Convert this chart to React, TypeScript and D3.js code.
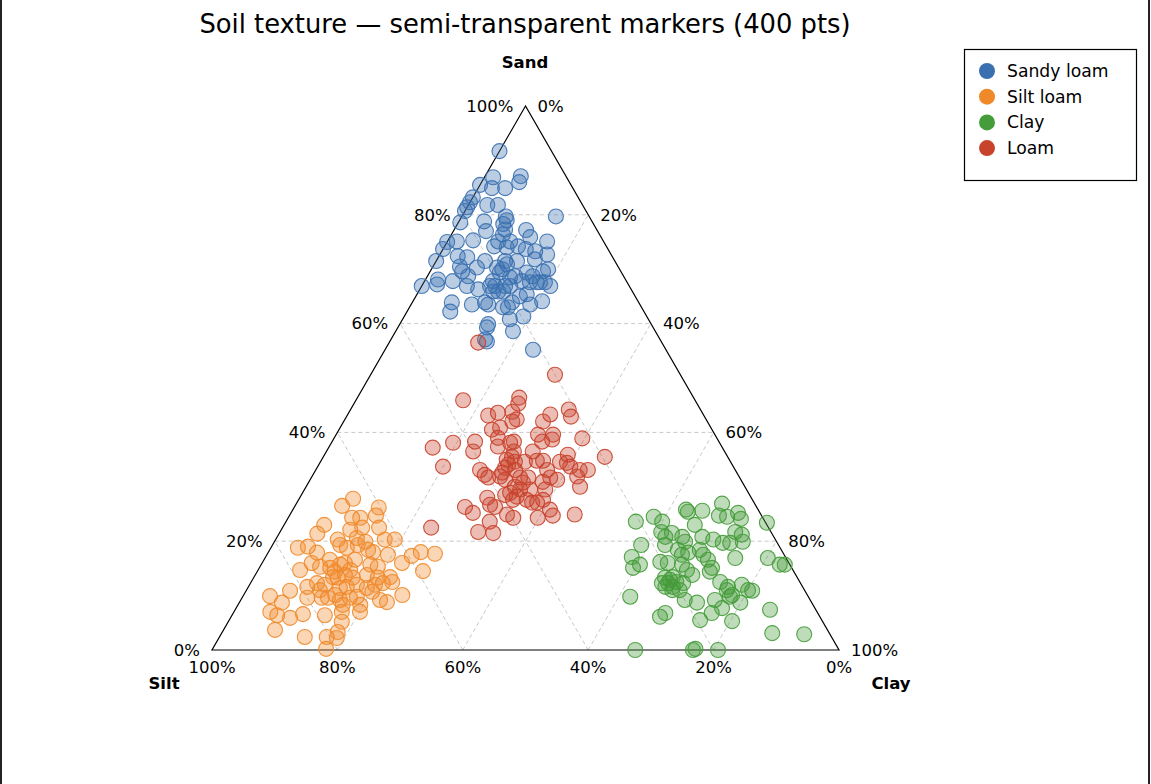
import React from "react";
import * as d3 from "d3";

// [sand %, clay %]; silt = 100 - sand - clay
const sandyLoam: [number, number][] = [
  [91.7, 0], [86.9, 1.4], [87.1, 5.7], [86.0, 6.0], [85.5, 0], [84.9, 2.2], [84.9, 4.3], [83.2, 0], [82.3, 0], [81.4, 0],
  [80.7, 0], [81.8, 3.0], [81.8, 4.7], [79.7, 15.0], [79.7, 7.0], [79.0, 7.5], [78.8, 4.0], [78.6, 0.3], [78.3, 7.3], [77.3, 8.1],
  [77.0, 5.2], [76.4, 8.2], [77.2, 11.5], [75.9, 12.8], [75.3, 4.0], [75.1, 1.5], [75.0, 0], [75.1, 10.0], [75.1, 8.1], [75.1, 15.9],
  [73.7, 0], [74.0, 10.0], [74.2, 7.9], [74.2, 11.7], [73.3, 14.9], [71.5, 0], [72.4, 3.0], [72.2, 4.6], [70.5, 4.3], [70.3, 7.1],
  [68.7, 6.5], [69.6, 5.1], [70.3, 10.3], [70.0, 11.3], [70.9, 11.6], [71.5, 11.0], [69.4, 11.2], [73.7, 13.2], [71.8, 15.6], [72.7, 17.1],
  [71.5, 12.9], [69.4, 15.5], [68.7, 16.8], [69.6, 18.0], [68.7, 14.0], [68.5, 13.3], [67.8, 15.5], [67.6, 16.9], [67.6, 18.0], [67.6, 18.5],
  [67.6, 19.3], [66.9, 20.5], [66.9, 10.9], [66.9, 11.7], [65.9, 11.9], [65.9, 12.7], [65.9, 13.5], [66.9, 13.3], [66.9, 14.1], [67.8, 10.9],
  [66.3, 9.3], [66.9, 7.2], [67.8, 4.5], [68.1, 2.0], [67.2, 2.3], [66.9, 0], [65.0, 16.6], [65.4, 17.5], [64.1, 20.6], [63.5, 19.0],
  [63.9, 15.9], [63.0, 14.9], [63.0, 15.7], [63.9, 11.6], [63.5, 12.3], [63.5, 9.7], [63.9, 6.3], [62.2, 6.9], [61.3, 19.0], [60.8, 17.1],
  [59.9, 14.1], [59.3, 14.2], [58.6, 18.7], [56.7, 15.5], [57.1, 15.0], [55.2, 23.6], [70.0, 18.6], [71.5, 7.8],
];

const siltLoam: [number, number][] = [
  [27.8, 8.6], [26.5, 7.5], [26.2, 13.5], [24.7, 13.8], [24.3, 10.2], [24.3, 11.5], [23.0, 6.4], [22.1, 11.0], [22.5, 12.7], [22.5, 15.4],
  [21.4, 6.1], [20.3, 9.9], [19.3, 10.8], [20.6, 12.8], [19.9, 14.5], [20.3, 17.4], [20.3, 19.0], [18.8, 4.3], [19.0, 5.8], [17.9, 7.8],
  [18.8, 12.1], [19.3, 13.6], [18.4, 15.7], [18.0, 16.7], [17.5, 19.3], [17.3, 23.2], [18.0, 24.3], [17.7, 26.7], [16.0, 22.3], [14.5, 26.4],
  [14.7, 6.7], [16.0, 7.9], [15.3, 9.6], [15.1, 11.3], [14.4, 12.4], [15.7, 12.6], [16.0, 13.2], [13.4, 12.6], [13.3, 13.4], [14.7, 14.7],
  [13.3, 15.8], [15.7, 17.4], [15.3, 18.8], [13.8, 17.8], [13.3, 19.8], [13.4, 21.7], [12.5, 22.5], [12.3, 21.1], [12.0, 20.0], [11.4, 19.0],
  [12.0, 17.1], [11.6, 15.7], [11.4, 14.7], [12.0, 12.0], [12.3, 10.6], [11.6, 9.4], [10.9, 7.0], [9.9, 4.3], [9.6, 10.4], [9.6, 12.7],
  [9.6, 13.7], [10.1, 14.6], [9.2, 15.8], [9.6, 17.2], [9.8, 18.2], [10.7, 20.2], [10.1, 25.3], [8.8, 23.5], [8.7, 6.8], [7.0, 5.8],
  [6.4, 7.2], [5.9, 9.5], [6.6, 11.2], [6.4, 14.8], [7.0, 17.2], [8.3, 16.7], [8.3, 19.5], [7.0, 20.1], [5.2, 18.1], [3.7, 8.2],
  [3.3, 18.4], [2.4, 13.6], [2.4, 17.1], [2.2, 18.8], [0.2, 18.1], [9.2, 22.2], [16.6, 10.5], [13.8, 14.3], [16.6, 14.5], [11.0, 11.7],
];

const clay: [number, number][] = [
  [25.8, 62.7], [25.4, 63.2], [25.6, 65.4], [26.9, 67.9], [24.7, 68.5], [24.5, 69.9], [25.2, 71.3], [24.1, 72.3], [23.4, 76.8], [23.6, 55.8],
  [24.5, 58.2], [23.6, 60.0], [23.0, 65.5], [21.7, 60.8], [20.8, 61.9], [21.5, 62.6], [20.8, 64.6], [19.9, 65.5], [20.8, 67.8], [20.3, 69.8],
  [19.7, 71.6], [19.7, 72.8], [21.7, 72.6], [21.2, 73.9], [19.9, 74.7], [19.3, 58.8], [19.3, 62.6], [18.4, 65.1], [17.5, 66.2], [17.9, 67.0],
  [18.4, 68.6], [17.5, 69.6], [16.6, 70.8], [15.1, 72.2], [14.4, 72.2], [16.9, 75.0], [16.9, 80.2], [15.7, 82.7], [15.7, 83.5], [17.1, 58.4],
  [15.1, 59.6], [15.7, 60.4], [16.2, 63.4], [16.0, 64.7], [15.7, 67.1], [14.7, 68.4], [13.8, 69.7], [13.3, 65.6], [13.4, 66.8], [12.3, 66.6],
  [11.6, 67.7], [11.6, 66.5], [11.0, 69.1], [12.3, 69.0], [11.0, 67.9], [12.5, 74.8], [11.6, 76.5], [11.0, 76.6], [9.8, 77.7], [12.0, 78.5],
  [11.0, 80.0], [10.9, 80.7], [10.1, 77.9], [9.2, 75.6], [7.7, 77.5], [6.8, 76.3], [8.7, 73.0], [9.2, 70.8], [5.5, 75.1], [8.7, 79.9],
  [7.4, 85.3], [5.3, 80.3], [9.8, 61.8], [6.1, 68.4], [6.8, 68.9], [3.1, 87.8], [2.9, 93.0], [0, 67.5], [0, 76.7], [0, 80.7],
  [0.2, 77.0], [12.9, 66.6], [12.5, 67.8], [12.3, 65.6],
];

const loam: [number, number][] = [
  [50.6, 29.4], [45.9, 17.1], [46.4, 25.8], [45.3, 26.2], [43.8, 26.0], [43.6, 23.8], [43.1, 22.5], [42.0, 26.9], [42.4, 27.4], [42.0, 31.8],
  [43.3, 32.3], [44.2, 34.8], [42.9, 35.8], [40.5, 24.4], [40.9, 25.5], [39.6, 32.2], [39.6, 34.6], [38.7, 34.9], [38.3, 33.5], [38.9, 39.6],
  [38.3, 29.0], [38.1, 28.5], [38.3, 22.8], [38.1, 19.4], [37.2, 16.6], [36.5, 23.4], [37.4, 26.9], [36.5, 32.9], [36.5, 29.9], [35.5, 44.9],
  [35.9, 38.8], [34.8, 35.4], [34.8, 34.4], [35.5, 30.1], [35.0, 29.5], [34.6, 31.0], [33.7, 20.0], [33.1, 26.2], [32.2, 27.4], [31.7, 28.2],
  [32.6, 30.0], [33.5, 30.0], [34.1, 30.2], [34.4, 39.4], [33.7, 40.3], [33.1, 42.1], [33.1, 43.4], [31.9, 42.3], [30.0, 43.7], [33.1, 36.9],
  [31.7, 38.1], [31.3, 39.4], [30.9, 37.3], [31.7, 34.6], [31.7, 33.3], [30.8, 34.2], [31.3, 31.1], [31.9, 30.0], [30.0, 33.3], [29.5, 34.4],
  [28.9, 33.1], [28.5, 32.5], [28.2, 34.5], [27.6, 36.4], [27.1, 37.5], [27.1, 38.3], [27.6, 34.2], [27.6, 39.0], [28.0, 29.9], [26.7, 31.0],
  [26.3, 32.0], [26.3, 27.2], [25.2, 29.0], [24.9, 34.6], [24.3, 35.9], [24.3, 39.8], [25.8, 41.0], [24.7, 42.0], [24.9, 45.4], [23.6, 32.5],
  [21.7, 31.6], [21.5, 34.1], [22.5, 23.7], [56.5, 14.2], [34.6, 32.6], [29.5, 36.0], [29.5, 38.4], [33.1, 31.8], [39.0, 26.1], [34.6, 38.2],
];

const seriesNames = ["Sandy loam", "Silt loam", "Clay", "Loam"];
const seriesColors = ["#3a70b0", "#f0892a", "#459c3a", "#c8432c"];
const seriesData = [sandyLoam, siltLoam, clay, loam];

const gridTicks = [20, 40, 60, 80];
const axisTicks = [0, 20, 40, 60, 80, 100];

const W = 1151;
const H = 784;
const FONT = "DejaVu Sans, sans-serif";

// horizontal projection coordinate (clay + sand/2) and vertical (sand)
const xScale = d3.scaleLinear().domain([0, 100]).range([212, 839]);
const yScale = d3.scaleLinear().domain([0, 100]).range([650, 106]);
const project = (sand: number, clayV: number): [number, number] => [
  xScale(clayV + sand / 2),
  yScale(sand),
];

export default function App() {
  const apex = project(100, 0);
  const left = project(0, 0);
  const right = project(0, 100);
  const tri = d3.line()([apex, left, right, apex]) + "Z";

  const gridLines: [number, number][][] = [];
  gridTicks.forEach((t) => {
    gridLines.push([project(t, 0), project(t, 100 - t)]);
    gridLines.push([project(0, t), project(100 - t, t)]);
    gridLines.push([project(0, 100 - t), project(100 - t, 0)]);
  });

  return (
    <svg
      width={W}
      height={H}
      style={{ position: "absolute", left: 0, top: 0, background: "#fff" }}
      fontFamily={FONT}
    >
      <rect x={0} y={0} width={W} height={H} fill="#fff" />
      <rect x={0} y={0} width={2} height={H} fill="#222" />
      <rect x={1148} y={0} width={2} height={H} fill="#222" />

      <text x={525} y={24} dy="0.35em" textAnchor="middle" fontSize={25.8} fill="#000">
        Soil texture — semi-transparent markers (400 pts)
      </text>

      {gridLines.map((l, i) => (
        <line
          key={i}
          x1={l[0][0]}
          y1={l[0][1]}
          x2={l[1][0]}
          y2={l[1][1]}
          stroke="#c8c8c8"
          strokeWidth={1}
          strokeDasharray="4,3"
        />
      ))}

      <path d={tri} fill="none" stroke="#000" strokeWidth={1.2} />

      {axisTicks.map((t) => {
        const [x, y] = project(t, 0);
        return (
          <text key={"s" + t} x={x - 12} y={y} dy="0.35em" textAnchor="end" fontSize={16.5}>
            {t}%
          </text>
        );
      })}
      {axisTicks.map((t) => {
        const [x, y] = project(t, 100 - t);
        return (
          <text key={"c" + t} x={x + 12} y={y} dy="0.35em" textAnchor="start" fontSize={16.5}>
            {100 - t}%
          </text>
        );
      })}
      {axisTicks.map((t) => {
        const [x, y] = project(0, 100 - t);
        return (
          <text key={"t" + t} x={x} y={y + 17} dy="0.35em" textAnchor="middle" fontSize={16.5}>
            {t}%
          </text>
        );
      })}

      <text x={525} y={62} dy="0.35em" textAnchor="middle" fontSize={16.5} fontWeight="bold">
        Sand
      </text>
      <text x={164} y={683} dy="0.35em" textAnchor="middle" fontSize={16.5} fontWeight="bold">
        Silt
      </text>
      <text x={891} y={683} dy="0.35em" textAnchor="middle" fontSize={16.5} fontWeight="bold">
        Clay
      </text>

      {seriesData.map((data, si) => (
        <g key={si}>
          {data.map(([s, c], i) => {
            const [x, y] = project(s, c);
            return (
              <circle
                key={i}
                cx={x}
                cy={y}
                r={7.5}
                fill={seriesColors[si]}
                fillOpacity={0.35}
                stroke={seriesColors[si]}
                strokeOpacity={0.9}
                strokeWidth={1.1}
              />
            );
          })}
        </g>
      ))}

      <g>
        <rect x={964.5} y={49.5} width={172} height={131} fill="#fff" stroke="#000" strokeWidth={1.2} />
        {seriesNames.map((n, i) => (
          <g key={n}>
            <circle cx={987} cy={71 + i * 25.7} r={8} fill={seriesColors[i]} />
            <text x={1007} y={71 + i * 25.7} dy="0.35em" fontSize={17.2}>
              {n}
            </text>
          </g>
        ))}
      </g>
    </svg>
  );
}
